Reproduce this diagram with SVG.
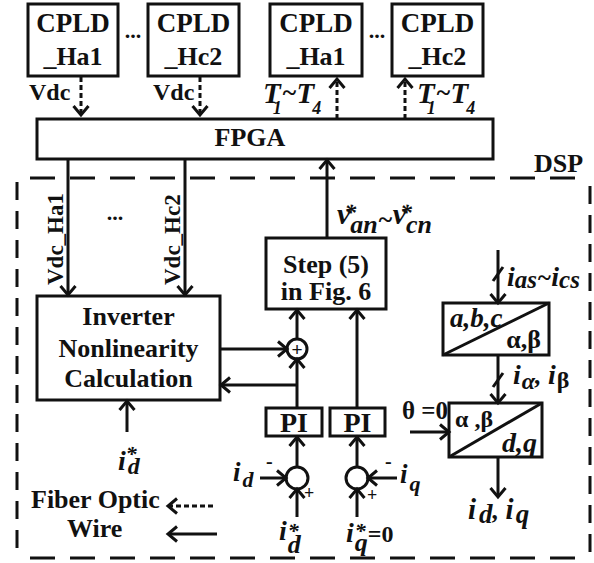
<svg xmlns="http://www.w3.org/2000/svg" width="594" height="563" viewBox="0 0 594 563">
<style>
.b{font-family:"Liberation Serif","Times New Roman",serif;font-weight:bold;fill:#111}
.bi{font-family:"Liberation Serif","Times New Roman",serif;font-weight:bold;font-style:italic;fill:#111}
.m{text-anchor:middle}
.e{text-anchor:end}
.n{font-style:normal}
.box{fill:#fff;stroke:#111;stroke-width:3}
.ln{stroke:#111;stroke-width:3;fill:none}
.arr{marker-end:url(#ah)}
.dsh{stroke-dasharray:5 3}
.bd{stroke:#111;stroke-width:3;fill:none}
</style>
<defs>
<marker id="ah" markerUnits="userSpaceOnUse" viewBox="-12 -10 16 20" refX="0" refY="0" markerWidth="16" markerHeight="20" orient="auto" overflow="visible">
<path d="M-9,-7.5 L0,0 L-9,7.5" fill="none" stroke="#111" stroke-width="3"/>
</marker>
</defs>
<rect width="594" height="563" fill="#fff"/>

<g id="dsp-border">
<line class="bd" x1="30" y1="178" x2="590" y2="178" stroke-dasharray="25 15"/>
<line class="bd" x1="17" y1="182" x2="17" y2="558" stroke-dasharray="18 11"/>
<line class="bd" x1="590" y1="186" x2="590" y2="558" stroke-dasharray="18 11"/>
<line class="bd" x1="30" y1="558" x2="590" y2="558" stroke-dasharray="25 15"/>
<text class="b" x="534" y="172" font-size="26">DSP</text>
</g>

<g id="cpld1"><rect class="box" x="28" y="4" width="90" height="72"/><text class="b m" x="73" y="32" font-size="27">CPLD</text><text class="b m" x="73" y="65" font-size="26">_Ha1</text></g>
<g id="cpld2"><rect class="box" x="148" y="4" width="91" height="72"/><text class="b m" x="193.5" y="32" font-size="27">CPLD</text><text class="b m" x="193.5" y="65" font-size="26">_Hc2</text></g>
<g id="cpld3"><rect class="box" x="270" y="4" width="92" height="72"/><text class="b m" x="316" y="32" font-size="27">CPLD</text><text class="b m" x="316" y="65" font-size="26">_Ha1</text></g>
<g id="cpld4"><rect class="box" x="392" y="4" width="91" height="72"/><text class="b m" x="437.5" y="32" font-size="27">CPLD</text><text class="b m" x="437.5" y="65" font-size="26">_Hc2</text></g>
<g id="dots-top">
<text class="b m" x="133" y="38" font-size="22">...</text>
<text class="b m" x="377" y="38" font-size="22">...</text>
</g>

<g id="fpga"><rect class="box" x="37" y="119" width="456" height="40"/><text class="b m" x="250" y="146" font-size="26">FPGA</text></g>

<g id="inverter"><rect class="box" x="37" y="296" width="183" height="104"/>
<text class="b m" x="128.5" y="325" font-size="26">Inverter</text>
<text class="b m" x="128.5" y="357" font-size="26">Nonlinearity</text>
<text class="b m" x="128.5" y="387" font-size="26">Calculation</text></g>

<g id="step"><rect class="box" x="266" y="238" width="120" height="71"/>
<text class="b m" x="326" y="273" font-size="26">Step (5)</text>
<text class="b m" x="326" y="300" font-size="26">in Fig. 6</text></g>

<g id="sum"><circle class="box" cx="297" cy="349" r="10" stroke-width="2.5"/><text x="297" y="356" font-family="Liberation Sans, Arial, sans-serif" font-size="19" text-anchor="middle" fill="#111">+</text></g>

<g id="pi1"><rect class="box" x="266" y="408" width="56" height="28"/><text class="b m" x="294" y="432" font-size="28">PI</text></g>
<g id="pi2"><rect class="box" x="330" y="408" width="55" height="28"/><text class="b m" x="357.5" y="432" font-size="28">PI</text></g>

<g id="sub1"><circle class="box" cx="297" cy="478" r="11"/></g>
<g id="sub2"><circle class="box" cx="357" cy="478" r="11"/></g>

<g id="clarke"><rect class="box" x="443" y="303" width="106" height="52"/><line class="ln" x1="443" y1="355" x2="549" y2="303"/>
<text class="bi" x="450" y="327" font-size="27">a,b,c</text>
<text class="b e" x="541" y="348" font-size="26">α,β</text></g>

<g id="park"><rect class="box" x="449" y="403" width="93" height="54"/><line class="ln" x1="449" y1="457" x2="542" y2="403"/>
<text class="b" x="455" y="427" font-size="24">α ,β</text>
<text class="bi e" x="537" y="452" font-size="28">d,q</text></g>

<g id="connectors">
<line class="ln dsh arr" x1="81" y1="77" x2="81" y2="115"/>
<line class="ln dsh arr" x1="200" y1="77" x2="200" y2="115"/>
<line class="ln dsh arr" x1="337" y1="119" x2="337" y2="79"/>
<line class="ln dsh arr" x1="405" y1="119" x2="405" y2="79"/>
<line class="ln arr" x1="68" y1="159" x2="68" y2="295"/>
<line class="ln arr" x1="185" y1="159" x2="185" y2="295"/>
<line class="ln arr" x1="327" y1="238" x2="327" y2="160"/>
<line class="ln arr" x1="220" y1="349" x2="287" y2="349"/>
<line class="ln arr" x1="297" y1="339" x2="297" y2="310"/>
<line class="ln arr" x1="297" y1="408" x2="297" y2="359"/>
<line class="ln arr" x1="297" y1="385" x2="221" y2="385"/>
<line class="ln arr" x1="357" y1="408" x2="357" y2="310"/>
<line class="ln arr" x1="127" y1="432" x2="127" y2="401"/>
<line class="ln arr" x1="297" y1="467" x2="297" y2="437"/>
<line class="ln arr" x1="357" y1="467" x2="357" y2="437"/>
<line class="ln arr" x1="260" y1="478" x2="286" y2="478"/>
<line class="ln arr" x1="397" y1="478" x2="368" y2="478"/>
<line class="ln arr" x1="297" y1="517" x2="297" y2="489"/>
<line class="ln arr" x1="357" y1="517" x2="357" y2="489"/>
<line class="ln arr" x1="498" y1="250" x2="498" y2="303"/>
<line class="ln" x1="493" y1="281" x2="503" y2="267"/>
<line class="ln arr" x1="498" y1="355" x2="498" y2="403"/>
<line class="ln" x1="493" y1="387" x2="503" y2="373"/>
<line class="ln arr" x1="410" y1="432" x2="449" y2="432"/>
<line class="ln arr" x1="498" y1="457" x2="498" y2="497"/>
<line class="ln dsh arr" x1="213" y1="506" x2="168" y2="506"/>
<line class="ln arr" x1="217" y1="534" x2="168" y2="534"/>
</g>

<g id="labels">
<text class="b" x="29" y="100" font-size="24">Vdc</text>
<text class="b" x="153" y="100" font-size="24">Vdc</text>
<text class="bi" x="263" y="103" font-size="29">T<tspan dx="-8" dy="11" font-size="18">1</tspan><tspan dy="-13" font-size="26">~</tspan><tspan dy="2" font-size="29">T</tspan><tspan dx="-2" dy="11" font-size="18">4</tspan></text>
<text class="bi" x="417" y="103" font-size="29">T<tspan dx="-8" dy="11" font-size="18">1</tspan><tspan dy="-13" font-size="26">~</tspan><tspan dy="2" font-size="29">T</tspan><tspan dx="-2" dy="11" font-size="18">4</tspan></text>
<text class="b" transform="translate(63,285) rotate(-90)" font-size="23">Vdc_Ha1</text>
<text class="b" transform="translate(180,285) rotate(-90)" font-size="23">Vdc_Hc2</text>
<text class="b m" x="115" y="220" font-size="22">...</text>
<text class="bi" x="337" y="224" font-size="30">v<tspan dx="-6" dy="-4.5" font-size="24">*</tspan><tspan dx="-6" dy="13.5" font-size="26">an</tspan><tspan dy="-5" font-size="26">~</tspan><tspan dy="-4" font-size="30">v</tspan><tspan dx="-6" dy="-4.5" font-size="24">*</tspan><tspan dx="-6" dy="13.5" font-size="26">cn</tspan></text>
<text class="bi" x="507" y="286" font-size="28">i<tspan dy="2" font-size="25">as</tspan><tspan dy="-2" font-size="25">~</tspan><tspan font-size="28">i</tspan><tspan dy="2" font-size="25">cs</tspan></text>
<text class="bi" x="513" y="384" font-size="28">i<tspan dx="1" dy="5" font-size="24">α</tspan><tspan dy="-5" font-size="26">, </tspan><tspan>i</tspan><tspan class="n" dx="1" dy="4" font-size="24">β</tspan></text>
<text class="bi" x="468" y="519" font-size="29">i<tspan dx="3" dy="4" font-size="27">d</tspan><tspan dy="-4" font-size="26">, </tspan><tspan>i</tspan><tspan dx="2" dy="4" font-size="27">q</tspan></text>
<text class="bi" x="118" y="470" font-size="28">i<tspan dy="-9" font-size="22">*</tspan><tspan dx="-9" dy="13" font-size="24">d</tspan></text>
<text class="bi" x="233" y="481" font-size="27">i<tspan dx="2" dy="6" font-size="22">d</tspan></text>
<text class="bi" x="400" y="483" font-size="27">i<tspan dx="2" dy="8" font-size="22">q</tspan></text>
<text class="bi" x="279" y="540" font-size="28">i<tspan dx="1" dy="-2" font-size="22">*</tspan><tspan dx="-11" dy="15" font-size="26">d</tspan></text>
<text class="bi" x="346" y="542" font-size="28">i<tspan dx="1" dy="-4" font-size="22">*</tspan><tspan dx="-11" dy="13" font-size="26">q</tspan><tspan class="n" dx="0" dy="-9" font-size="24">=0</tspan></text>
<text class="b" x="266" y="468" font-size="20">-</text>
<text class="b" x="304" y="499" font-size="18">+</text>
<text class="b" x="385" y="468" font-size="20">-</text>
<text class="b" x="367" y="501" font-size="18">+</text>
<text class="b" x="402" y="419" font-size="25">θ =0</text>
<text class="b" x="31" y="508" font-size="26">Fiber Optic</text>
<text class="b" x="67" y="537" font-size="26">Wire</text>
</g>
</svg>
